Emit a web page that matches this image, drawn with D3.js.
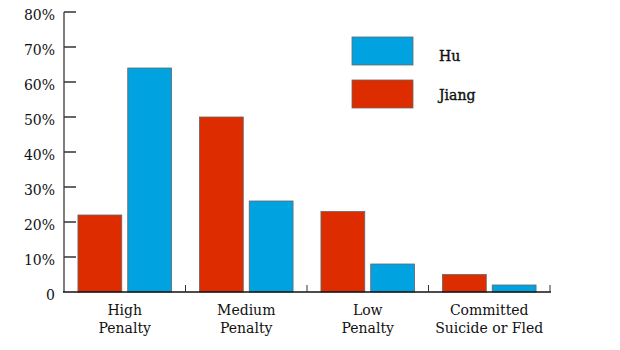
<!DOCTYPE html>
<html><head><meta charset="utf-8">
<script src="https://cdn.jsdelivr.net/npm/d3@7"></script>
<style>body{margin:0;background:#fff}svg{display:block}text{font-family:"DejaVu Serif",serif;fill:#111}</style>
</head><body>
<script>
const categories = [["High","Penalty"],["Medium","Penalty"],["Low","Penalty"],["Committed","Suicide or Fled"]];
const seriesNames = ["Jiang","Hu"];
const jiang = [22, 50, 23, 5];
const hu = [64, 26, 8, 2];
const yTicks = [0,10,20,30,40,50,60,70,80];
const colors = {Jiang:"#dd2c00", Hu:"#00a3e0"};

const W=620,H=350;
const svg=d3.select("body").append("svg").attr("width",W).attr("height",H);
const x=d3.scaleBand().domain(d3.range(categories.length)).range([64,550]);
const xs=d3.scaleBand().domain(seriesNames).range([0,x.bandwidth()]).paddingInner(0.12).paddingOuter(0.28);
const y=d3.scaleLinear().domain([0,80]).range([292,12]);

svg.append("line").attr("x1",64).attr("x2",64).attr("y1",y(80)).attr("y2",y(0)).attr("stroke","#7f7f7f").attr("stroke-width",2);
yTicks.forEach(t=>{
  if(t>0) svg.append("line").attr("x1",64).attr("x2",76).attr("y1",y(t)).attr("y2",y(t)).attr("stroke","#333").attr("stroke-width",1.5);
  svg.append("text").attr("x",55).attr("y",y(t)+8).attr("text-anchor","end").attr("font-size",14).text(t===0?"0":t+"%");
});
const data = categories.map((c,i)=>({i, Jiang:jiang[i], Hu:hu[i]}));
data.forEach(d=>{
  seriesNames.forEach(s=>{
    svg.append("rect").attr("x",x(d.i)+xs(s)).attr("width",xs.bandwidth())
      .attr("y",y(d[s])).attr("height",y(0)-y(d[s]))
      .attr("fill",colors[s]).attr("stroke","#666").attr("stroke-width",0.8);
  });
});
svg.append("line").attr("x1",63).attr("x2",551).attr("y1",y(0)).attr("y2",y(0)).attr("stroke","#111").attr("stroke-width",1.5);
d3.range(1,categories.length+1).forEach(i=>{
  const xx = i<categories.length? x(i): x.range()[1];
  svg.append("line").attr("x1",xx).attr("x2",xx).attr("y1",y(0)).attr("y2",y(0)-7).attr("stroke","#333").attr("stroke-width",1);
});
categories.forEach((c,i)=>{
  const cx=x(i)+x.bandwidth()/2;
  c.forEach((l,j)=>svg.append("text").attr("x",cx).attr("y",315+j*18).attr("text-anchor","middle").attr("font-size",14).text(l));
});
const leg=[["Hu",37,61],["Jiang",80,100]];
leg.forEach(([s,ty,tb])=>{
  svg.append("rect").attr("x",352).attr("y",ty).attr("width",61).attr("height",28).attr("fill",colors[s]).attr("stroke","#666").attr("stroke-width",0.8);
  svg.append("text").attr("x",439).attr("y",tb).attr("font-size",14).attr("stroke","#111").attr("stroke-width",0.4).text(s);
});
</script>
</body></html>
